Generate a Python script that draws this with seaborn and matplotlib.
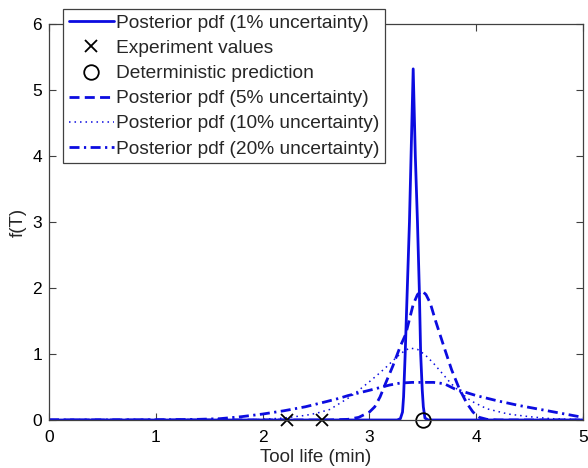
import matplotlib
matplotlib.use("Agg")
import matplotlib.pyplot as plt
import seaborn as sns
import pandas as pd

# ---- data ----
x_1pct = [0.0, 3.0, 3.26, 3.29, 3.31, 3.32, 3.335, 3.355, 3.375, 3.39, 3.41, 3.43, 3.45, 3.467, 3.48, 3.495, 3.505, 3.52, 3.55, 5.0]
y_1pct = [0.0, 0.0, 0.0, 0.02, 0.12, 0.35, 1.0, 2.0, 3.0, 4.0, 5.32, 4.0, 3.0, 2.0, 1.0, 0.45, 0.2, 0.03, 0.0, 0.0]

x_5pct = [0.0, 2.6, 2.8, 2.9, 3.0, 3.05, 3.1, 3.15, 3.22, 3.29, 3.34, 3.41, 3.45, 3.49, 3.53, 3.57, 3.62, 3.7, 3.77, 3.84, 3.91, 3.97, 4.03, 4.1, 4.2, 5.0]
y_5pct = [0.0, 0.0, 0.01, 0.04, 0.12, 0.2, 0.35, 0.55, 0.82, 1.12, 1.3, 1.75, 1.9, 1.96, 1.9, 1.77, 1.5, 1.1, 0.76, 0.48, 0.26, 0.12, 0.04, 0.01, 0.0, 0.0]

x_10pct = [0.0, 1.8, 2.0, 2.2, 2.4, 2.5, 2.63, 2.72, 2.82, 2.9, 3.0, 3.08, 3.15, 3.26, 3.33, 3.38, 3.45, 3.52, 3.6, 3.68, 3.76, 3.85, 3.95, 4.1, 4.3, 4.5, 4.7, 4.9, 5.0]
y_10pct = [0.0, 0.0, 0.01, 0.03, 0.07, 0.1, 0.16, 0.25, 0.35, 0.45, 0.58, 0.69, 0.79, 0.96, 1.05, 1.09, 1.07, 0.99, 0.86, 0.71, 0.56, 0.42, 0.29, 0.17, 0.09, 0.05, 0.02, 0.01, 0.005]

x_20pct = [0.0, 1.0, 1.4, 1.6, 1.8, 2.0, 2.2, 2.4, 2.6, 2.72, 2.8, 3.0, 3.19, 3.29, 3.4, 3.5, 3.6, 3.7, 3.8, 4.0, 4.2, 4.4, 4.6, 4.8, 5.0]
y_20pct = [0.0, 0.003, 0.01, 0.02, 0.05, 0.09, 0.14, 0.2, 0.28, 0.33, 0.37, 0.45, 0.53, 0.56, 0.57, 0.57, 0.57, 0.55, 0.47, 0.37, 0.29, 0.22, 0.16, 0.1, 0.04]

x_exp = [2.23, 2.56]
y_exp = [0.0, 0.0]
x_det = [3.5]
y_det = [0.0]

labels = ["Posterior pdf (1% uncertainty)", "Experiment values", "Deterministic prediction",
          "Posterior pdf (5% uncertainty)", "Posterior pdf (10% uncertainty)", "Posterior pdf (20% uncertainty)"]
x_ticks = [0, 1, 2, 3, 4, 5]
y_ticks = [0, 1, 2, 3, 4, 5, 6]

# ---- style ----
sns.set_style("white")
plt.rcParams["font.family"] = ["Liberation Sans", "DejaVu Sans"]

BLUE = "#0c0ce0"
fig = plt.figure(figsize=(5.88, 4.68), dpi=100)
ax = fig.add_axes([49/588, 48/468, 534/588, 396/468])

df1 = pd.DataFrame({"x": x_1pct, "y": y_1pct})
df5 = pd.DataFrame({"x": x_5pct, "y": y_5pct})
df10 = pd.DataFrame({"x": x_10pct, "y": y_10pct})
df20 = pd.DataFrame({"x": x_20pct, "y": y_20pct})

sns.lineplot(data=df1, x="x", y="y", ax=ax, color=BLUE, lw=2.0, sort=False, estimator=None)
h1 = ax.lines[-1]
sns.lineplot(data=df5, x="x", y="y", ax=ax, color=BLUE, lw=2.0, sort=False, estimator=None,
             linestyle=(0, (3.6, 1.9)))
h5 = ax.lines[-1]
sns.lineplot(data=df10, x="x", y="y", ax=ax, color=BLUE, lw=1.1, sort=False, estimator=None,
             linestyle=(0, (1.0, 2.6)))
h10 = ax.lines[-1]
sns.lineplot(data=df20, x="x", y="y", ax=ax, color=BLUE, lw=2.0, sort=False, estimator=None,
             linestyle=(0, (3.6, 1.6, 0.8, 1.6)))
h20 = ax.lines[-1]

sns.lineplot(x=x_exp, y=y_exp, ax=ax, color="black", linestyle="none", marker="x",
             markersize=9, markeredgewidth=1.3, markeredgecolor="black",
             clip_on=False, sort=False, estimator=None)
hx = ax.lines[-1]
sns.lineplot(x=x_det, y=y_det, ax=ax, color="black", linestyle="none", marker="o",
             markersize=10.5, markerfacecolor="none", markeredgecolor="black",
             markeredgewidth=1.3, clip_on=False, sort=False, estimator=None)
ho = ax.lines[-1]

ax.set_xlim(0, 5)
ax.set_ylim(0, 6)
ax.set_xticks(x_ticks)
ax.set_yticks(y_ticks)
ax.set_xticklabels([str(t) for t in x_ticks], fontsize=12.5)
ax.set_yticklabels([str(t) for t in y_ticks], fontsize=12.5)
ax.tick_params(direction="in", length=5, width=0.8, color="#404040", top=True, right=True,
               bottom=True, left=True, labelcolor="black")
ax.tick_params(axis="x", pad=7)
ax.tick_params(axis="y", pad=5)
for s in ax.spines.values():
    s.set_visible(True)
    s.set_color("#404040")
    s.set_linewidth(0.9)

ax.set_xlabel("Tool life (min)", fontsize=13.5, labelpad=3)
ax.set_ylabel("f(T)", fontsize=13.5, labelpad=4)

leg = ax.legend(handles=[h1, hx, ho, h5, h10, h20], labels=labels,
                loc="upper left", bbox_to_anchor=(0.026, 1.038), borderaxespad=0,
                fontsize=13.8, frameon=True, fancybox=False, framealpha=1,
                edgecolor="#404040", handlelength=2.35, handletextpad=0.12,
                labelspacing=0.4, borderpad=0.3)
leg.get_frame().set_linewidth(0.9)
leg.set_zorder(5)

fig.savefig("out.png", dpi=100)
